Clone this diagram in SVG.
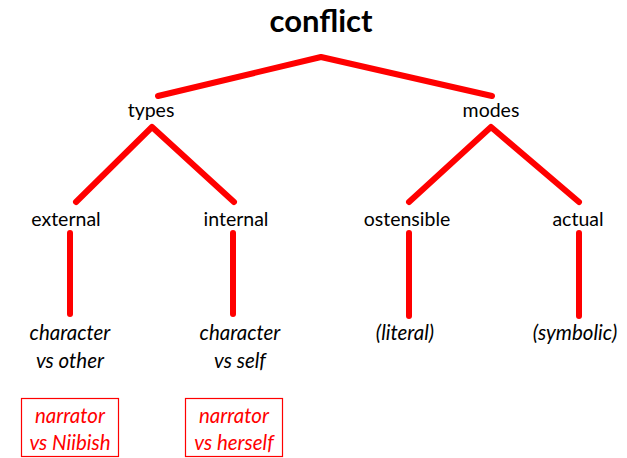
<svg xmlns="http://www.w3.org/2000/svg" width="627" height="458" viewBox="0 0 627 458">
<style>
text{font-family:"Lato","Open Sans","Liberation Sans",sans-serif;font-size:19.5px;fill:#000;text-anchor:middle}
.t{font-size:31px;font-weight:bold}
.i{font-style:italic;font-size:20.5px}
.r{fill:#ff0000}
.e{stroke:#ff0000;stroke-width:6;stroke-linecap:round;stroke-linejoin:round;fill:none}
.b{fill:#fff;stroke:#ff0000;stroke-width:1.2}
</style>
<rect width="627" height="458" fill="#fff"/>
<g id="connectors">
<polyline class="e" points="158,96 321,57 492,96"/>
<polyline class="e" points="76,202 152,127 234,202"/>
<polyline class="e" points="409,202 491,127 579,202"/>
<line class="e" x1="70" y1="233" x2="70" y2="314"/>
<line class="e" x1="233" y1="233" x2="233" y2="314"/>
<line class="e" x1="409" y1="233" x2="409" y2="316"/>
<line class="e" x1="579" y1="233" x2="579" y2="316"/>
</g>
<g id="conflict"><text class="t" x="321" y="32">conflict</text></g>
<g id="types"><text x="151" y="117">types</text></g>
<g id="modes"><text x="491" y="117">modes</text></g>
<g id="external"><text x="66" y="226">external</text></g>
<g id="internal"><text x="236" y="226">internal</text></g>
<g id="ostensible"><text x="407" y="226">ostensible</text></g>
<g id="actual"><text x="578" y="226">actual</text></g>
<g id="char-other"><text class="i" x="70" y="340">character</text><text class="i" x="70" y="368">vs other</text></g>
<g id="char-self"><text class="i" x="240" y="340">character</text><text class="i" x="240" y="368">vs self</text></g>
<g id="literal"><text class="i" x="405" y="340">(literal)</text></g>
<g id="symbolic"><text class="i" x="575" y="340">(symbolic)</text></g>
<g id="narrator-niibish"><rect class="b" x="21.5" y="398.5" width="97" height="58"/><text class="i r" x="70" y="423">narrator</text><text class="i r" x="70" y="450">vs Niibish</text></g>
<g id="narrator-herself"><rect class="b" x="185.5" y="398.5" width="97" height="58"/><text class="i r" x="234" y="423">narrator</text><text class="i r" x="234" y="450">vs herself</text></g>
</svg>
